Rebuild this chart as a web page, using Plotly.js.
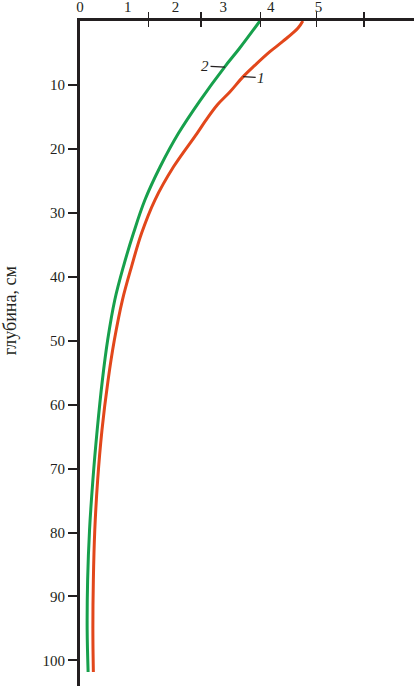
<!DOCTYPE html>
<html>
<head>
<meta charset="utf-8">
<script src="https://cdn.plot.ly/plotly-3.0.1.min.js"></script>
<style>
  html, body { margin: 0; padding: 0; background: #fff; }
  #plot { width: 414px; height: 686px; }
</style>
</head>
<body>
<div id="plot"></div>
<script>
/** ----------------------------- data ----------------------------- **/
// curve 1 (red) : depth (cm) and value
let depth1 = [0, 1.1, 3.2, 4.8, 6.9, 8.7, 11.1, 13.1, 15.5, 17.6, 22.8, 28.0, 33.2, 38.4, 43.6, 49.9, 56.1, 64.0, 71.8, 79.6, 87.4, 95.2, 101.8];
let value1 = [4.67, 4.57, 4.25, 3.98, 3.67, 3.42, 3.14, 2.88, 2.64, 2.45, 1.96, 1.57, 1.29, 1.08, 0.89, 0.72, 0.59, 0.46, 0.37, 0.31, 0.28, 0.27, 0.28];

// curve 2 (green)
let depth2 = [0, 4.3, 7.2, 12.4, 17.6, 22.8, 28.0, 33.2, 38.4, 43.6, 49.9, 56.1, 64.0, 71.8, 79.6, 87.4, 95.2, 101.8];
let value2 = [3.77, 3.34, 3.03, 2.52, 2.06, 1.68, 1.36, 1.12, 0.91, 0.73, 0.58, 0.47, 0.36, 0.27, 0.20, 0.16, 0.15, 0.17];

// axis ticks
let xLabelVals = [0, 1, 2, 3, 4, 5];
let xLabelText = ["0", "1", "2", "3", "4", "5"];
let xMarkVals = [1.44, 2.54, 3.78, 4.96, 5.95];
let yTickVals = [10, 20, 30, 40, 50, 60, 70, 80, 90, 100];

let axisColor = "#231f20";
let serif = "Liberation Serif, Times New Roman, serif";

/** ----------------------------------- traces ----------------------------------- **/
let trace1 = {
    x: value1,
    y: depth1,
    type: "scatter",
    mode: "lines",
    name: "1",
    line: {color: "#e2471b", width: 3, shape: "spline", smoothing: 1},
    hoverinfo: "skip"
};

// green curve sits on the overlay axis (same range) that carries the inner tick marks
let trace2 = {
    x: value2,
    y: depth2,
    xaxis: "x2",
    type: "scatter",
    mode: "lines",
    name: "2",
    line: {color: "#17a04c", width: 3, shape: "spline", smoothing: 1},
    hoverinfo: "skip"
};

/** ----------------------------------- layout ----------------------------------- **/
let layout = {
    width: 414,
    height: 686,
    margin: {l: 80, r: 0, t: 21, b: 0},
    paper_bgcolor: "#ffffff",
    plot_bgcolor: "#ffffff",
    showlegend: false,
    font: {family: serif, size: 15, color: axisColor},
    xaxis: {
        side: "top", range: [0, 7],
        tickmode: "array", tickvals: xLabelVals, ticktext: xLabelText,
        ticks: "", showgrid: false, zeroline: false,
        showline: true, linewidth: 3, linecolor: axisColor,
        tickfont: {family: serif, size: 15, color: axisColor},
        minor: {tickmode: "array", tickvals: xMarkVals, ticks: "outside",
                ticklen: 6, tickwidth: 1.5, tickcolor: axisColor, showgrid: false},
        fixedrange: true
    },
    xaxis2: {
        overlaying: "x", anchor: "y", side: "top",
        range: [0, 7], tickmode: "array", tickvals: xMarkVals,
        ticks: "inside", ticklen: 6, tickwidth: 1.5, tickcolor: axisColor,
        showticklabels: false, showline: false, showgrid: false, zeroline: false,
        fixedrange: true
    },
    yaxis: {
        range: [104, 0],
        tickvals: yTickVals,
        ticks: "outside", ticklen: 9, tickwidth: 2, tickcolor: axisColor,
        showgrid: false, zeroline: false,
        showline: true, linewidth: 3, linecolor: axisColor,
        tickfont: {family: serif, size: 15, color: axisColor},
        fixedrange: true
    },
    annotations: [
        {   // axis title
            xref: "paper", yref: "paper", x: -0.21, y: 0.565,
            text: "глубина, см", textangle: -90, showarrow: false,
            xanchor: "center", yanchor: "middle",
            font: {family: serif, size: 18, color: axisColor}
        },
        {   // curve label 2
            x: 3.04, y: 7.2, text: "<i>2</i>",
            showarrow: true, arrowhead: 0, arrowwidth: 1.2, arrowcolor: axisColor,
            ax: -20, ay: -1, standoff: 0,
            font: {family: serif, size: 15, color: axisColor}
        },
        {   // curve label 1
            x: 3.42, y: 8.71, text: "<i>1</i>",
            showarrow: true, arrowhead: 0, arrowwidth: 1.2, arrowcolor: axisColor,
            ax: 18, ay: 1, standoff: 0,
            font: {family: serif, size: 15, color: axisColor}
        }
    ]
};

Plotly.newPlot("plot", [trace2, trace1], layout, {displayModeBar: false, staticPlot: true});
</script>
</body>
</html>
